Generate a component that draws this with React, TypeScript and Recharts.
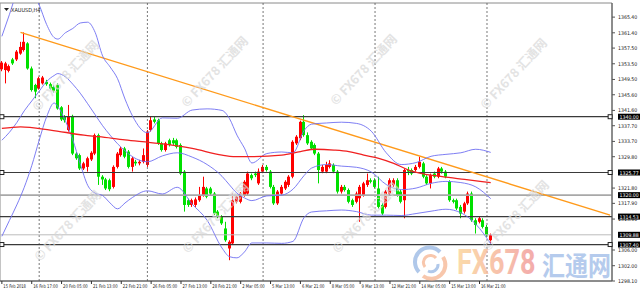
import React from 'react';
import {
  ComposedChart,
  Bar,
  Line,
  XAxis,
  YAxis,
  ReferenceLine,
  ReferenceDot,
  ReferenceArea,
} from 'recharts';

// XAUUSD H4 candles
const opens = [
  1352.1, 1351.9, 1351.7, 1354.6, 1354.6, 1356.1, 1357.0, 1358.7, 1352.3, 1348.1,
  1347.2, 1348.5, 1348.9, 1348.3, 1347.6, 1348.1, 1342.4, 1340.0, 1336.6, 1340.2,
  1330.6, 1330.2, 1326.8, 1327.2, 1329.1, 1330.6, 1335.3, 1324.7, 1324.0, 1323.8,
  1322.1, 1327.2, 1330.2, 1331.9, 1331.1, 1327.2, 1328.5, 1328.1, 1328.5, 1327.7,
  1336.6, 1339.3, 1339.1, 1333.2, 1331.5, 1334.0, 1334.0, 1334.0, 1332.8, 1326.0,
  1318.7, 1317.5, 1317.5, 1318.7, 1320.0, 1321.7, 1321.7, 1320.4, 1315.8, 1314.5,
  1311.5, 1306.4, 1307.7, 1318.3, 1318.3, 1320.0, 1320.4, 1325.1, 1325.5, 1323.0,
  1326.0, 1327.2, 1326.0, 1322.1, 1317.9, 1320.4, 1321.7, 1322.6, 1324.7, 1333.2,
  1334.5, 1338.7, 1335.3, 1333.6, 1332.8, 1330.6, 1326.0, 1326.0, 1327.2, 1327.7,
  1326.0, 1320.9, 1322.1, 1321.3, 1318.7, 1318.3, 1319.2, 1320.0, 1322.6, 1323.8,
  1323.8, 1321.7, 1317.5, 1317.0, 1320.4, 1322.6, 1323.8, 1320.9, 1318.7, 1326.4,
  1326.4, 1326.4, 1327.2, 1328.1, 1324.7, 1323.0, 1325.5, 1324.7, 1326.8, 1326.0,
  1323.4, 1318.7, 1318.7, 1317.0, 1315.8, 1317.9, 1320.4, 1313.6, 1313.2, 1313.6,
  1311.9, 1308.5,
];
const highs = [
  1354.2, 1354.0, 1353.3, 1355.0, 1357.0, 1359.1, 1361.5, 1359.0, 1352.8, 1348.4,
  1350.2, 1350.4, 1349.4, 1348.7, 1348.0, 1348.5, 1342.7, 1340.4, 1343.0, 1340.5,
  1331.0, 1330.6, 1328.5, 1329.8, 1331.2, 1335.7, 1335.7, 1325.1, 1324.4, 1324.2,
  1327.6, 1331.0, 1332.3, 1332.3, 1331.5, 1329.8, 1329.0, 1329.0, 1331.9, 1336.6,
  1340.0, 1340.0, 1339.5, 1333.6, 1333.6, 1334.4, 1334.6, 1334.4, 1333.2, 1326.4,
  1319.1, 1319.1, 1319.4, 1322.1, 1324.7, 1322.1, 1322.1, 1320.8, 1316.2, 1314.9,
  1313.2, 1308.5, 1320.4, 1320.0, 1320.8, 1323.8, 1326.0, 1325.5, 1326.0, 1326.8,
  1327.7, 1327.7, 1326.4, 1322.6, 1321.3, 1322.6, 1323.8, 1325.1, 1334.0, 1335.3,
  1339.0, 1340.4, 1336.0, 1334.0, 1333.2, 1331.0, 1327.7, 1328.5, 1328.9, 1328.1,
  1326.4, 1322.6, 1322.6, 1321.7, 1319.1, 1320.9, 1322.6, 1323.4, 1325.5, 1324.3,
  1324.3, 1324.7, 1317.9, 1321.3, 1324.3, 1324.3, 1324.3, 1321.3, 1326.8, 1327.2,
  1326.8, 1327.7, 1329.8, 1328.5, 1325.1, 1325.5, 1326.0, 1327.2, 1327.2, 1326.4,
  1323.8, 1319.1, 1319.1, 1317.5, 1318.3, 1320.9, 1320.9, 1314.1, 1314.5, 1314.1,
  1312.4, 1310.2,
];
const lows = [
  1351.6, 1348.5, 1351.3, 1353.2, 1354.2, 1355.8, 1356.6, 1352.0, 1346.4, 1344.7,
  1346.9, 1348.2, 1347.9, 1346.9, 1346.2, 1341.8, 1338.9, 1338.5, 1336.2, 1330.2,
  1329.0, 1326.4, 1326.4, 1326.0, 1328.7, 1330.2, 1322.6, 1322.6, 1321.3, 1321.0,
  1321.7, 1326.8, 1329.8, 1329.4, 1326.8, 1326.0, 1327.5, 1327.6, 1328.1, 1327.2,
  1336.2, 1338.3, 1332.8, 1331.1, 1331.1, 1332.4, 1332.8, 1331.9, 1325.1, 1315.8,
  1317.0, 1317.0, 1317.0, 1318.3, 1319.6, 1319.2, 1320.0, 1314.9, 1314.1, 1312.4,
  1308.1, 1303.4, 1307.3, 1317.9, 1317.9, 1319.6, 1320.0, 1323.8, 1324.6, 1322.6,
  1325.6, 1326.0, 1321.7, 1317.5, 1317.5, 1320.0, 1321.3, 1322.1, 1324.3, 1332.8,
  1334.0, 1334.9, 1332.8, 1331.5, 1330.2, 1323.0, 1325.6, 1325.6, 1326.8, 1325.6,
  1320.4, 1320.4, 1320.9, 1317.9, 1317.0, 1317.9, 1313.2, 1319.6, 1322.1, 1323.0,
  1321.7, 1316.6, 1314.9, 1316.6, 1320.0, 1322.1, 1319.6, 1317.9, 1314.1, 1325.1,
  1325.1, 1326.0, 1326.8, 1324.3, 1322.6, 1321.7, 1324.3, 1324.3, 1325.5, 1324.3,
  1318.3, 1317.9, 1316.2, 1314.1, 1315.3, 1317.5, 1313.2, 1310.2, 1312.8, 1311.5,
  1309.4, 1307.7,
];
const closes = [
  1353.8, 1353.6, 1352.9, 1353.6, 1356.6, 1357.8, 1359.1, 1352.3, 1346.8, 1346.4,
  1349.8, 1350.0, 1348.3, 1347.2, 1346.6, 1342.1, 1339.3, 1339.1, 1340.0, 1330.6,
  1329.4, 1326.8, 1328.1, 1329.4, 1330.8, 1335.3, 1324.7, 1324.0, 1321.7, 1321.5,
  1327.2, 1330.6, 1331.9, 1329.8, 1327.2, 1329.4, 1328.1, 1328.5, 1330.2, 1336.2,
  1339.1, 1338.7, 1333.2, 1331.5, 1333.2, 1332.8, 1333.2, 1332.3, 1325.5, 1317.5,
  1317.5, 1318.7, 1318.9, 1320.0, 1322.1, 1319.6, 1320.4, 1315.3, 1314.5, 1312.8,
  1308.5, 1308.1, 1318.7, 1319.6, 1320.4, 1323.4, 1325.5, 1324.3, 1325.1, 1326.0,
  1327.2, 1326.4, 1322.1, 1317.9, 1320.9, 1322.1, 1323.4, 1324.7, 1333.6, 1334.9,
  1338.7, 1335.3, 1333.2, 1331.9, 1330.6, 1326.4, 1327.2, 1327.7, 1328.1, 1326.0,
  1320.9, 1322.1, 1321.3, 1318.3, 1317.5, 1320.4, 1322.1, 1323.0, 1323.8, 1323.4,
  1322.1, 1317.0, 1315.3, 1320.9, 1323.8, 1323.8, 1320.0, 1318.3, 1326.4, 1326.0,
  1325.5, 1327.2, 1328.5, 1324.7, 1323.0, 1325.1, 1324.7, 1326.8, 1326.0, 1324.7,
  1318.7, 1318.3, 1316.6, 1315.3, 1317.9, 1320.4, 1313.6, 1312.4, 1314.1, 1311.9,
  1309.8, 1309.8,
];

// Bollinger bands, read at these bar positions
const bandIdx = [
  0, 2, 4, 6, 8, 10, 12, 14, 15, 17, 19, 21, 23, 25, 27, 29, 31, 33, 35, 39, 43, 47,
  51, 55, 59, 61, 63, 65, 67, 71, 75, 78, 81, 83, 87, 91, 95, 99, 103, 107, 111, 115,
  119, 123, 127, 131,
];
const upperBand = [
  1360.5, 1366.0, 1371.5, 1373.5, 1372.0, 1368.5, 1363.5, 1360.2, 1359.8, 1361.4,
  1362.5, 1363.9, 1364.1, 1361.5, 1355.5, 1352.7, 1349.7, 1344.5, 1340.2, 1335.9,
  1339.7, 1339.6, 1341.7, 1342.0, 1341.6, 1339.5, 1335.3, 1332.0, 1328.2, 1330.6,
  1331.0, 1330.8, 1336.5, 1338.1, 1338.4, 1338.6, 1338.3, 1336.3, 1330.8, 1327.8,
  1328.3, 1329.9, 1330.4, 1330.8, 1331.7, 1330.9,
];
const midBand = [
  1334.0, 1336.0, 1338.5, 1341.5, 1344.0, 1346.5, 1349.0, 1350.5, 1351.0, 1350.2,
  1348.3, 1346.0, 1343.3, 1340.5, 1337.7, 1335.3, 1333.1, 1331.3, 1329.8, 1328.5,
  1330.0, 1330.8, 1329.7, 1327.8, 1324.8, 1322.6, 1320.5, 1319.3, 1318.6, 1319.8,
  1320.0, 1321.5, 1325.0, 1326.9, 1327.8, 1327.4, 1327.1, 1325.9, 1322.7, 1321.4,
  1321.8, 1323.0, 1323.5, 1323.2, 1322.1, 1319.1,
];
const lowerBand = [
  1309.5, 1313.5, 1317.5, 1322.0, 1327.5, 1334.0, 1340.0, 1343.5, 1342.6, 1339.0,
  1334.1, 1328.0, 1322.5, 1320.5, 1319.9, 1318.0, 1316.5, 1318.0, 1319.4, 1321.1,
  1320.3, 1322.0, 1317.7, 1313.6, 1306.5, 1304.3, 1304.0, 1305.5, 1307.8, 1307.8,
  1307.7, 1308.2, 1314.3, 1315.7, 1316.0, 1316.2, 1315.8, 1314.9, 1314.9, 1314.8,
  1315.3, 1315.9, 1316.4, 1315.5, 1312.6, 1307.6,
];

// red moving average
const maIdx = [0, 5, 13, 22, 26, 33, 42, 51, 59, 62, 67, 75, 80, 84, 89, 93, 97, 101, 105, 109, 118, 124, 131];
const maValues = [
  1337.0, 1337.4, 1336.6, 1335.3, 1334.9, 1334.1, 1333.2, 1331.9, 1330.2, 1329.8,
  1329.8, 1330.2, 1331.1, 1331.7, 1331.5, 1331.1, 1330.2, 1329.4, 1328.1, 1326.4,
  1324.7, 1324.0, 1323.2,
];

const timeLabels = [
  '15 Feb 2018', '16 Feb 17:00', '20 Feb 05:00', '21 Feb 13:00', '22 Feb 21:00',
  '26 Feb 05:00', '27 Feb 13:00', '28 Feb 21:00', '2 Mar 05:00', '5 Mar 13:00',
  '6 Mar 21:00', '8 Mar 05:00', '9 Mar 13:00', '12 Mar 21:00', '14 Mar 05:00',
  '15 Mar 13:00', '16 Mar 21:00',
];
const labelEvery = 8;

const priceTicks = [
  1365.4, 1361.4, 1357.5, 1353.5, 1349.5, 1345.6, 1341.6, 1337.7, 1333.7, 1329.8,
  1321.8, 1317.9, 1313.9, 1306.0, 1302.0, 1298.1,
];

const levels = [1340.0, 1325.77, 1320.0, 1314.53, 1309.88, 1307.4];
const levelColors = ['#3a3a3a', '#3a3a3a', '#a8a8a8', '#3a3a3a', '#bcbcbc', '#3a3a3a'];
const levelWidths = [1.2, 1.2, 1.8, 1.2, 1, 1.2];
const levelMarked = [true, true, false, false, false, true];

const weekStarts = [10, 39, 70, 100, 130];
const trendLine = [
  { x: 5, y: 1361.5 },
  { x: 163, y: 1314.9 },
];

const SLOTS = 164;
const Y_MIN = 1298.1;
const Y_MAX = 1369.0;
const SMALL_FONT = '"Liberation Sans Narrow", "DejaVu Sans Condensed", "Liberation Sans", sans-serif';

const rows: any[] = Array.from({ length: SLOTS }, (_, i) => ({
  i,
  o: opens[i],
  h: highs[i],
  l: lows[i],
  c: closes[i],
  hl: i < opens.length ? [lows[i], highs[i]] : null,
}));
bandIdx.forEach((idx, k) => {
  rows[idx].up = upperBand[k];
  rows[idx].mid = midBand[k];
  rows[idx].lo = lowerBand[k];
});
maIdx.forEach((idx, k) => {
  rows[idx].ma = maValues[k];
});

const tickIdx = timeLabels.map((_, k) => k * labelEvery);

const Candle = (props: any) => {
  const { x, y, width, height, payload } = props;
  if (!payload || payload.o == null) return null;
  const { o, h, l, c } = payload;
  const top = Math.min(y, y + height);
  const full = Math.abs(height);
  const span = h - l || 1;
  const py = (v: number) => top + ((h - v) / span) * full;
  const color = c >= o ? '#ff0000' : '#00e000';
  const bx = Math.round(x + width / 2 - 1.5);
  const bTop = py(Math.max(o, c));
  const bBot = py(Math.min(o, c));
  return (
    <g>
      <line x1={bx + 1.5} x2={bx + 1.5} y1={top} y2={top + full} stroke={color} strokeWidth={1} />
      <rect x={bx} y={bTop} width={3} height={Math.max(1, bBot - bTop)} fill={color} />
    </g>
  );
};

const TimeTick = (props: any) => {
  const { x, y, payload } = props;
  const label = timeLabels[payload.value / labelEvery] || '';
  return (
    <g>
      <line x1={x} x2={x} y1={y} y2={y + 3} stroke="#333" />
      <text
        x={x + 1.5}
        y={y + 7}
        fontSize={5}
        fill="#222"
        fontFamily={SMALL_FONT}
        textAnchor="start"
        textLength={label.length * 2.05}
        lengthAdjust="spacingAndGlyphs"
      >
        {label}
      </text>
    </g>
  );
};

const levelLabel = (v: number) => (props: any) => {
  const vb = props.viewBox || {};
  const x = (vb.x || 0) + (vb.width || 0) + 6;
  const y = vb.y || 0;
  return (
    <g>
      <rect x={x} y={y - 3} width={22} height={6} fill="#000" />
      <text x={x + 1.5} y={y + 2} fontSize={5.2} fill="#fff" fontFamily={SMALL_FONT}>
        {v.toFixed(2)}
      </text>
    </g>
  );
};

const EndSquare = (props: any) => (
  <rect x={props.cx - 2} y={props.cy - 2} width={4} height={4} fill="#fff" stroke="#222" strokeWidth={1} />
);

const watermarks = [
  [38, 112], [187, 108], [336, 106], [486, 110],
  [40, 262], [188, 254], [338, 254], [488, 252],
];

export default function App() {
  return (
    <div style={{ position: 'absolute', left: 0, top: 0, width: 640, height: 300, background: '#fff' }}>
      <ComposedChart width={640} height={300} data={rows} margin={{ top: 3, right: 0, bottom: 0, left: 0 }}>
        <XAxis
          dataKey="i"
          type="category"
          ticks={tickIdx}
          interval={0}
          tick={<TimeTick />}
          tickLine={false}
          tickSize={0}
          tickMargin={0}
          height={19}
          axisLine={{ stroke: '#555' }}
        />
        <YAxis
          orientation="right"
          width={28}
          domain={[Y_MIN, Y_MAX]}
          allowDataOverflow
          ticks={priceTicks}
          interval={0}
          tickFormatter={(v: number) => v.toFixed(2)}
          tick={{ fontSize: 5.2, fill: '#222', fontFamily: SMALL_FONT }}
          tickSize={3}
          tickMargin={3}
          axisLine={{ stroke: '#555' }}
          tickLine={{ stroke: '#555' }}
        />
        <ReferenceArea x1={0} x2={SLOTS - 1} y1={Y_MIN} y2={Y_MAX} fill="none" stroke="#8a8a8a" />
        {weekStarts.map((w) => (
          <ReferenceLine key={'w' + w} x={w} stroke="#555" strokeDasharray="2 2" strokeWidth={0.8} />
        ))}
        {levels.map((v, k) => (
          <ReferenceLine
            key={'lv' + v}
            y={v}
            stroke={levelColors[k]}
            strokeWidth={levelWidths[k]}
            label={levelLabel(v)}
          />
        ))}
        <ReferenceLine segment={trendLine} stroke="#ff9a1a" strokeWidth={1.4} />
        <Line dataKey="up" type="monotone" stroke="#6f6ff2" strokeWidth={0.9} dot={false} connectNulls isAnimationActive={false} />
        <Line dataKey="mid" type="monotone" stroke="#6f6ff2" strokeWidth={0.9} dot={false} connectNulls isAnimationActive={false} />
        <Line dataKey="lo" type="monotone" stroke="#6f6ff2" strokeWidth={0.9} dot={false} connectNulls isAnimationActive={false} />
        <Line dataKey="ma" type="monotone" stroke="#f02020" strokeWidth={1.3} dot={false} connectNulls isAnimationActive={false} />
        <Bar dataKey="hl" barSize={3} shape={<Candle />} isAnimationActive={false} />
        {levels.map((v, k) =>
          levelMarked[k] ? (
            <ReferenceDot key={'sl' + v} x={0} y={v} r={2} shape={<EndSquare />} />
          ) : null
        )}
        {levels.map((v, k) =>
          levelMarked[k] ? (
            <ReferenceDot key={'sr' + v} x={SLOTS - 1} y={v} r={2} shape={<EndSquare />} />
          ) : null
        )}
      </ComposedChart>
      <svg
        width={640}
        height={300}
        style={{ position: 'absolute', left: 0, top: 0, pointerEvents: 'none' }}
      >
        <defs>
          <linearGradient id="fxGrad" x1="0" x2="1" y1="0" y2="0">
            <stop offset="0%" stopColor="#fbd59c" />
            <stop offset="100%" stopColor="#f29d9d" />
          </linearGradient>
        </defs>
        <path d="M4,8 L9,8 L6.5,11 Z" fill="#222" />
        <text x={11} y={11.5} fontSize={5.5} fill="#222" fontFamily={SMALL_FONT}>XAUUSD,H4</text>
        {watermarks.map(([x, y], k) => (
          <text
            key={'wm' + k}
            transform={`translate(${x},${y}) rotate(-47)`}
            fontSize={12.5}
            fontWeight="bold"
            fill="#d8d8d8"
            opacity={0.7}
            fontFamily='"Noto Sans CJK SC", "DejaVu Sans", sans-serif'
          >
            © FX678 汇通网
          </text>
        ))}
        <g opacity={0.7}>
          <path d="M419,272 A14,14 0 0 1 440,252" stroke="#8fb2e2" strokeWidth={4} fill="none" />
          <path d="M443,257 A14,14 0 0 1 423,276" stroke="#f6b08a" strokeWidth={4} fill="none" />
          <path d="M425,267 A7,7 0 0 1 436,258" stroke="#f6b08a" strokeWidth={3} fill="none" />
          <path d="M438,264 A7,7 0 0 1 428,271" stroke="#8fb2e2" strokeWidth={3} fill="none" />
        </g>
        <text
          transform="translate(457,274) scale(1,1.3)"
          fontSize={27}
          fontWeight="bold"
          fill="url(#fxGrad)"
          opacity={0.85}
          fontFamily='Roboto, "Open Sans", sans-serif'
        >
          FX678
        </text>
        <text
          transform="translate(542,276) scale(1,1.2)"
          fontSize={23}
          fontWeight="bold"
          fill="#a9c3ea"
          opacity={0.85}
          fontFamily='"Noto Sans CJK SC", sans-serif'
        >
          汇通网
        </text>
      </svg>
    </div>
  );
}
